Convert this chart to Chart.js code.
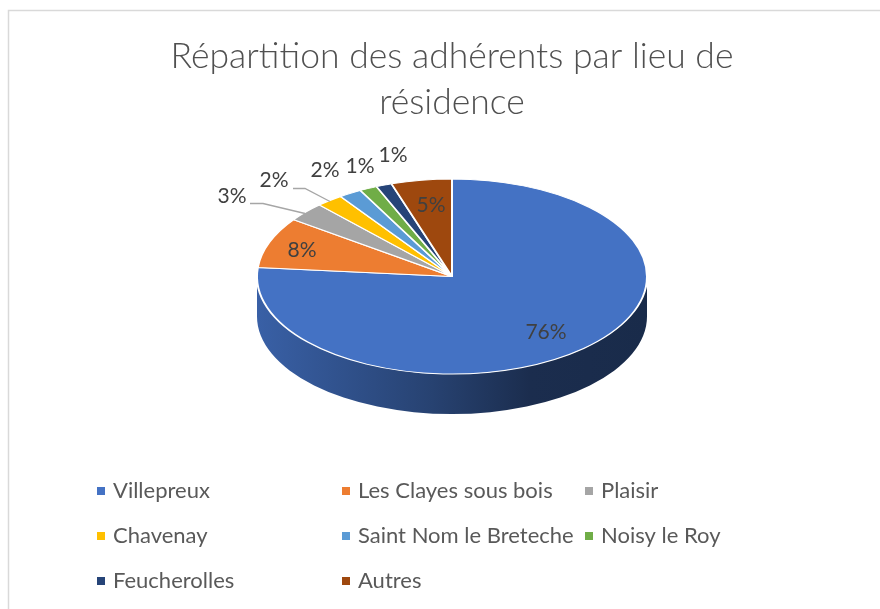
<!DOCTYPE html>
<html lang="fr">
<head>
<meta charset="utf-8">
<style>html,body{margin:0;padding:0;background:#fff;overflow:hidden}canvas{display:block}</style>
<script src="https://cdn.jsdelivr.net/npm/chart.js@4"></script>
</head>
<body>
<canvas id="c" width="880" height="609"></canvas>
<script>
const categories = ["Villepreux","Les Clayes sous bois","Plaisir","Chavenay","Saint Nom le Breteche","Noisy le Roy","Feucherolles","Autres"];
const values = [76.2,8.4,3.2,2.2,1.9,1.45,1.3,5.0];
const colors = ["#4472C4","#ED7D31","#A5A5A5","#FFC000","#5B9BD5","#70AD47","#264478","#9E480E"];
const titleLines = ["Répartition des adhérents par lieu de","résidence"];

// Layout (offsets from the pie centre, and legend grid)
const FONT = "Lato";
const squash = 0.5, depth = 40;
const labelOffsets = [[94,56],[-150,-26],[-220,-80],[-178,-96],[-127,-106],[-92,-110],[-59,-121],[-21,-71]];
const leaders = {2:[[-202,-73],[-189,-73],[-147,-63]],3:[[-159,-88],[-147,-88],[-122,-75]]};
const legendCols = [97,342,585], legendRows = [491,536,581];

function shade(hex,f){const n=parseInt(hex.slice(1),16);
  return `rgb(${(n>>16&255)*f|0},${(n>>8&255)*f|0},${(n&255)*f|0})`;}

const pie3d = {
  id:"pie3d",
  beforeDraw(chart){
    const c=chart.ctx;c.save();c.strokeStyle="#D9D9D9";c.lineWidth=1.5;
    c.strokeRect(8.5,10.5,chart.width+20,chart.height+20);c.restore();
  },
  beforeDatasetsDraw(chart){
    const c=chart.ctx, arcs=chart.getDatasetMeta(0).data;
    const cx=arcs[0].x, cy=arcs[0].y, r=arcs[0].outerRadius;
    c.save();
    arcs.forEach((a,i)=>{
      const s=Math.max(a.startAngle,0), e=Math.min(a.endAngle,Math.PI);
      if(e<=s) return;
      const g=c.createLinearGradient(cx-r,0,cx+r,0);
      g.addColorStop(0,shade(colors[i],0.85));
      g.addColorStop(0.45,shade(colors[i],0.58));
      g.addColorStop(0.7,shade(colors[i],0.4));
      g.addColorStop(1,shade(colors[i],0.38));
      c.beginPath();
      c.ellipse(cx,cy+depth,r,r*squash,0,s,e);
      c.ellipse(cx,cy,r,r*squash,0,e,s,true);
      c.closePath();c.fillStyle=g;c.fill();
    });
    c.restore();
    c.save();
    c.translate(cx,cy);c.scale(1,squash);c.translate(-cx,-cy);
  },
  afterDatasetsDraw(chart){
    const c=chart.ctx;c.restore();
    const a0=chart.getDatasetMeta(0).data[0], cx=a0.x, cy=a0.y;
    const total=values.reduce((p,v)=>p+v,0);
    c.save();
    c.strokeStyle="#A6A6A6";c.lineWidth=1.3;
    Object.values(leaders).forEach(pts=>{
      c.beginPath();pts.forEach(([x,y],i)=>i?c.lineTo(cx+x,cy+y):c.moveTo(cx+x,cy+y));c.stroke();
    });
    c.font=`21px ${FONT}`;c.fillStyle="#404040";c.textAlign="center";c.textBaseline="middle";
    values.forEach((v,i)=>{
      c.fillText(Math.round(v/total*100)+"%",cx+labelOffsets[i][0],cy+labelOffsets[i][1]);
    });
    c.font=`22px ${FONT}`;c.textAlign="left";
    categories.forEach((t,i)=>{
      const x=legendCols[i%3], y=legendRows[Math.floor(i/3)];
      c.fillStyle=colors[i];c.fillRect(x,y-4,8,8);
      c.fillStyle="#595959";c.fillText(t,x+16,y);
    });
    c.restore();
  }
};

new Chart(document.getElementById("c"),{
  type:"pie",
  data:{labels:categories,datasets:[{data:values,backgroundColor:colors,borderColor:"#FFFFFF",borderWidth:2}]},
  plugins:[pie3d],
  options:{
    responsive:false,animation:false,radius:195,
    layout:{padding:{left:24,right:0,top:33,bottom:182}},
    plugins:{
      legend:{display:false},tooltip:{enabled:false},
      title:{display:true,text:titleLines,color:"#505050",font:{family:FONT,size:35.5,weight:"300",lineHeight:1.31},padding:0}
    }
  }
});
</script>
</body>
</html>
